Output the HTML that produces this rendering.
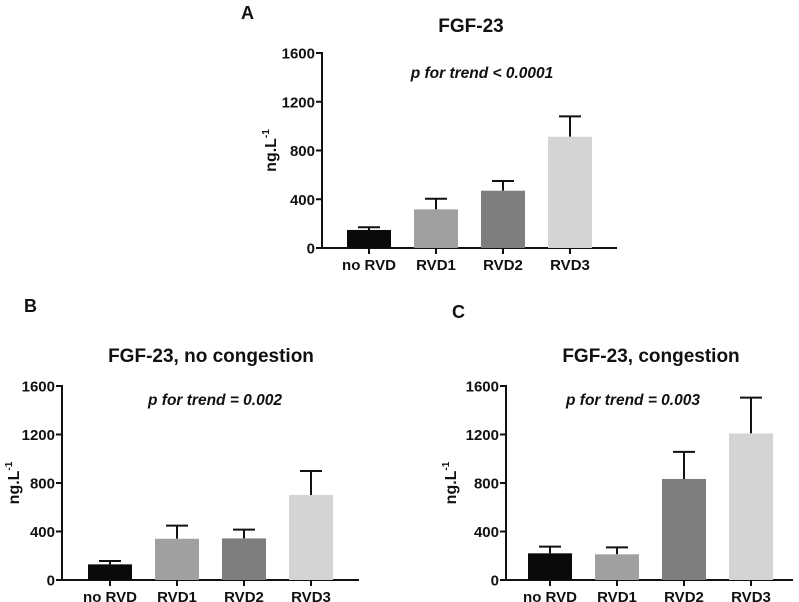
<!DOCTYPE html>
<html><head><meta charset="utf-8"><style>
body{margin:0;background:#fff;width:799px;height:602px;overflow:hidden}
svg{display:block;font-family:"Liberation Sans",Arial,sans-serif}
text{font-weight:bold;fill:#111}
</style></head><body>
<svg id="chart" width="799" height="602" viewBox="0 0 799 602" xmlns="http://www.w3.org/2000/svg"></svg>
<script>
const categories = ["no RVD","RVD1","RVD2","RVD3"];
const barColors = ["#0a0a0a","#a0a0a0","#7e7e7e","#d4d4d4"];
const yTicks = [0,400,800,1200,1600];
const meansA = [148,317,470,913];
const errorsA = [170,404,550,1080];
const meansB = [129,340,343,701];
const errorsB = [157,448,415,899];
const meansC = [220,212,833,1209];
const errorsC = [275,269,1057,1504];

const svg = document.getElementById('chart');
const NS = 'http://www.w3.org/2000/svg';
function mk(tag, attrs, parent){
  const e = document.createElementNS(NS, tag);
  for (const k in attrs) e.setAttribute(k, attrs[k]);
  (parent||svg).appendChild(e);
  return e;
}
function panel(cfg){
  const g = mk('g', {});
  
  
  const y = v => cfg.y0 - v / 1600 * (cfg.y0 - cfg.y1600);
  const x = i => cfg.firstBar + i * 67;
  const bw = 44;
  let t = mk('text', {x: cfg.letterX, y: cfg.letterY, 'font-size': 18}, g); t.textContent = cfg.letter;
   
  t = mk('text', {x: cfg.titleX, y: cfg.titleY, 'font-size': 19, 'text-anchor': 'middle'}, g); t.textContent = cfg.title;
   
  t = mk('text', {x: cfg.pX, y: cfg.pY, 'font-size': 15.5, 'text-anchor': 'middle', 'font-style': 'italic'}, g); t.textContent = cfg.p;
   
  const cy = (cfg.y0 + cfg.y1600) / 2;
  t = mk('text', {x: 0, y: 0, 'font-size': 16, 'text-anchor': 'middle', transform: `translate(${cfg.ylabX},${cy}) rotate(-90)`}, g);
  t.innerHTML = 'ng.L<tspan dy="-7" font-size="10">-1</tspan>';
   
  let l = mk('line', {x1: cfg.ax, y1: cfg.y1600 - 1, x2: cfg.ax, y2: cfg.y0 + 1, stroke: '#111', 'stroke-width': 2}, g);
   
  l = mk('line', {x1: cfg.ax - 1, y1: cfg.y0, x2: cfg.axEnd, y2: cfg.y0, stroke: '#111', 'stroke-width': 2}, g);
   
  yTicks.forEach(v => {
    const tk = mk('line', {x1: cfg.ax - 6, y1: y(v), x2: cfg.ax, y2: y(v), stroke: '#111', 'stroke-width': 2}, g);
     
    const tl = mk('text', {x: cfg.ax - 7, y: y(v) + 5.5, 'font-size': 15, 'text-anchor': 'end'}, g);
    tl.textContent = v;
     
  });
  categories.forEach((c, i) => {
    const cx = x(i) + bw / 2;
    const er = mk('path', {d: `M${cx},${y(cfg.means[i])}V${y(cfg.errors[i])}M${cx - 11},${y(cfg.errors[i])}H${cx + 11}`, stroke: '#111', 'stroke-width': 2, fill: 'none'}, g);
     
    const b = mk('rect', {x: x(i), y: y(cfg.means[i]), width: bw, height: y(0) - y(cfg.means[i]), fill: barColors[i]}, g);
     
    const tk = mk('line', {x1: cx, y1: cfg.y0, x2: cx, y2: cfg.y0 + 6, stroke: '#111', 'stroke-width': 2}, g);
     
    const tl = mk('text', {x: cx, y: cfg.y0 + 22, 'font-size': 15, 'text-anchor': 'middle'}, g);
    tl.textContent = c;
     
  });
}
panel({name:'panel-a', letter:'A', letterX:241, letterY:19, title:'FGF-23', titleX:471, titleY:32,
  p:'p for trend < 0.0001', pX:482, pY:78, ylabX:276, ax:322, axEnd:617, y0:248, y1600:53,
  firstBar:347, means:meansA, errors:errorsA});
panel({name:'panel-b', letter:'B', letterX:24, letterY:312, title:'FGF-23, no congestion', titleX:211, titleY:362,
  p:'p for trend = 0.002', pX:215, pY:405, ylabX:19, ax:62, axEnd:359, y0:580, y1600:386,
  firstBar:88, means:meansB, errors:errorsB});
panel({name:'panel-c', letter:'C', letterX:452, letterY:318, title:'FGF-23, congestion', titleX:651, titleY:362,
  p:'p for trend = 0.003', pX:633, pY:405, ylabX:456, ax:506, axEnd:793, y0:580, y1600:386,
  firstBar:528, means:meansC, errors:errorsC});
</script>
</body></html>
